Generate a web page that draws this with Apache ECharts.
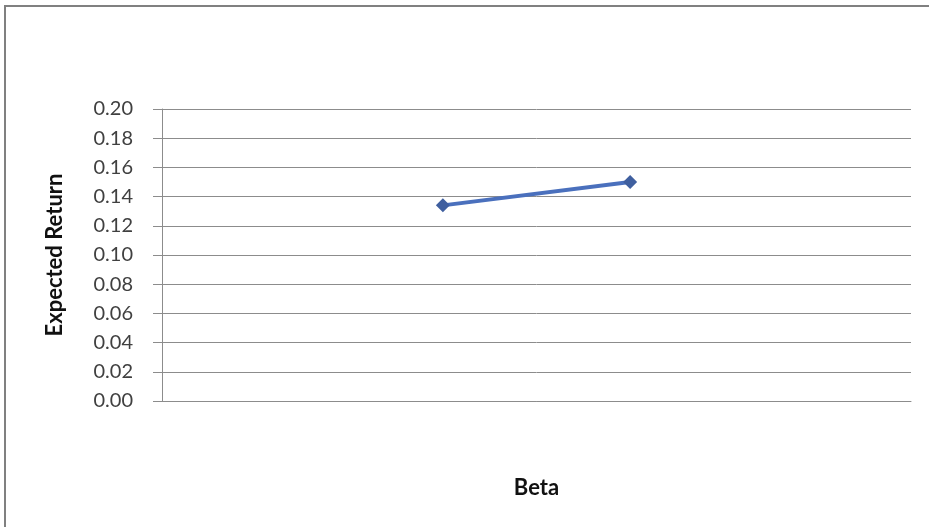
<!DOCTYPE html>
<html>
<head>
<meta charset="utf-8">
<script src="https://cdn.jsdelivr.net/npm/echarts@6/dist/echarts.min.js"></script>
<style>
  html, body { margin: 0; padding: 0; background: #ffffff; }
  #chart { width: 929px; height: 527px; }
</style>
</head>
<body>
<div id="chart"></div>
<script>
// Beta categories (labels not shown on the axis) and expected returns
const betaCategories = ['b1', 'b2', 'b3', 'b4'];
const expectedReturn = [null, 0.134, 0.150, null];
const yTicks = { min: 0, max: 0.20, interval: 0.02 };

const chart = echarts.init(document.getElementById('chart'), null, { renderer: 'canvas' });

const font = 'Lato, "Open Sans", "DejaVu Sans", sans-serif';

chart.setOption({
  animation: false,
  backgroundColor: '#ffffff',
  graphic: [
    {
      type: 'rect',
      shape: { x: 5, y: 6, width: 960, height: 560 },
      style: { fill: 'none', stroke: '#808080', lineWidth: 2 },
      silent: true
    }
  ],
  grid: { left: 162, top: 109, right: 18, bottom: 126, containLabel: false },
  xAxis: {
    type: 'category',
    data: betaCategories,
    boundaryGap: true,
    name: 'Beta',
    nameLocation: 'middle',
    nameGap: 76,
    nameTextStyle: { fontFamily: font, fontWeight: 'bold', fontSize: 22, color: '#111' },
    axisLine: { show: true, lineStyle: { color: '#8c8c8c', width: 1 } },
    axisTick: { show: false },
    axisLabel: { show: false },
    splitLine: { show: false }
  },
  yAxis: {
    type: 'value',
    min: yTicks.min,
    max: yTicks.max,
    interval: yTicks.interval,
    name: 'Expected Return',
    nameLocation: 'middle',
    nameGap: 96,
    nameRotate: 90,
    nameTextStyle: { fontFamily: font, fontWeight: 'bold', fontSize: 22, color: '#111' },
    axisLine: { show: true, lineStyle: { color: '#8c8c8c', width: 1 } },
    axisTick: { show: true, inside: false, length: 9, lineStyle: { color: '#8c8c8c' } },
    axisLabel: {
      fontFamily: font,
      fontSize: 20,
      color: '#404040',
      margin: 29,
      formatter: v => v.toFixed(2)
    },
    splitLine: { show: true, lineStyle: { color: '#8c8c8c', width: 1 } }
  },
  series: [
    {
      type: 'line',
      data: expectedReturn,
      connectNulls: false,
      symbol: 'diamond',
      symbolSize: 14,
      lineStyle: { color: '#4a70bd', width: 4 },
      itemStyle: { color: '#3f5f9f' }
    }
  ]
});
</script>
</body>
</html>
